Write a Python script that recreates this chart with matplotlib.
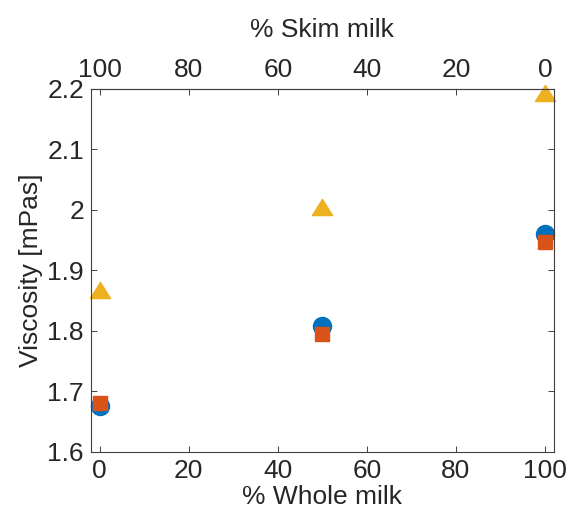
import numpy as np
import matplotlib.pyplot as plt

plt.rcParams['font.family'] = ['Liberation Sans', 'DejaVu Sans']

# viscosity vs. milk blend
whole_pct = [0, 50, 100]
visc_circle = [1.676, 1.807, 1.960]
visc_square = [1.680, 1.794, 1.946]
visc_triangle = [1.867, 2.004, 2.193]

xticks = [0, 20, 40, 60, 80, 100]
yticks = [1.6, 1.7, 1.8, 1.9, 2.0, 2.1, 2.2]

blue = '#0072BD'
orange = '#D95319'
yellow = '#EDB120'
axcol = '#404040'
txtcol = '#262626'
fs = 19

# wide MATLAB-style triangle
tri = [(-1, -0.8), (1, -0.8), (0, 0.8), (-1, -0.8)]

fig = plt.figure(figsize=(5.68, 5.17), dpi=100)
ax = fig.add_axes([0.160, 0.1263, 0.815, 0.702])

ax.plot(whole_pct, visc_circle, 'o', color=blue, ms=13, mec=blue, clip_on=False)
ax.plot(whole_pct, visc_square, 's', color=orange, ms=9.5, mec=orange, clip_on=False)
ax.plot(whole_pct, visc_triangle, marker=tri, ls='none', color=yellow, ms=14.5,
        mec=yellow, clip_on=False)

ax.set_xlim(-2, 102)
ax.set_ylim(1.6, 2.2)
ax.set_xticks(xticks)
ax.set_yticks(yticks)
ax.set_yticklabels(['%g' % v for v in yticks])

ax.tick_params(direction='in', length=4.5, width=0.7, color=axcol,
               labelsize=fs, labelcolor=txtcol, right=True, pad=5)
for s in ax.spines.values():
    s.set_color(axcol)
    s.set_linewidth(0.8)

ax.set_xlabel('% Whole milk', fontsize=fs, color=txtcol, labelpad=2)
ax.set_ylabel('Viscosity [mPas]', fontsize=fs, color=txtcol, labelpad=3)

# skim milk runs the other way along the top
top = ax.secondary_xaxis('top', functions=(lambda x: 100 - x, lambda x: 100 - x))
top.set_xticks(xticks)
top.tick_params(direction='in', length=4.5, width=0.7, color=axcol,
                labelsize=fs, labelcolor=txtcol, pad=5)
top.spines['top'].set_color(axcol)
top.set_xlabel('% Skim milk', fontsize=fs, color=txtcol, labelpad=15)

fig.savefig('out.png', dpi=100)
